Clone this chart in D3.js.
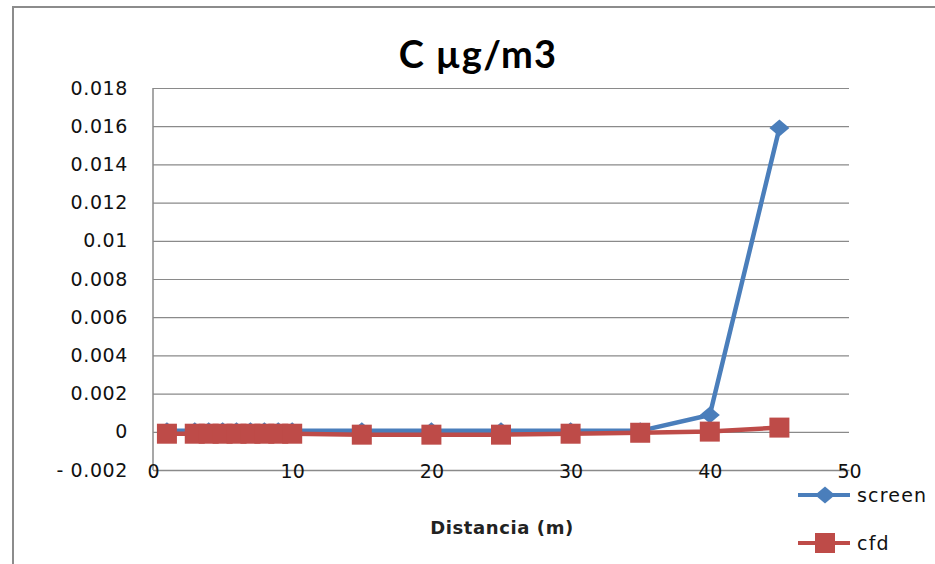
<!DOCTYPE html>
<html>
<head>
<meta charset="utf-8">
<script src="https://cdn.jsdelivr.net/npm/d3@7"></script>
<style>
  body { margin: 0; background: #fff; }
  svg { display: block; }
</style>
</head>
<body>
<svg id="chart" width="935" height="564"></svg>
<script>
// distances (m) and the two concentration series
const distancia = [1, 3, 4, 5, 6, 7, 8, 9, 10, 15, 20, 25, 30, 35, 40, 45];
const screen = [0.00005, 0.00005, 0.00005, 0.00005, 0.00005, 0.00005, 0.00005, 0.00005, 0.00005,
                0.00005, 0.00005, 0.00005, 0.00005, 0.00005, 0.00088, 0.0159];
const cfd = [-0.0001, -0.0001, -0.0001, -0.0001, -0.0001, -0.0001, -0.0001, -0.0001, -0.0001,
             -0.00015, -0.00015, -0.00015, -0.0001, -0.00005, 0.00001, 0.00022];
const yTicks = [-0.002, 0, 0.002, 0.004, 0.006, 0.008, 0.01, 0.012, 0.014, 0.016, 0.018];
const xTicks = [0, 10, 20, 30, 40, 50];
const seriesNames = ["screen", "cfd"];

const blue = "#4a7ebb", red = "#be4b48";
const labelFont = "DejaVu Sans";

var svg = d3.select("#chart");
var margin = {top: 88, right: 86, bottom: 94, left: 153},
    width = 935 - margin.left - margin.right,
    height = 564 - margin.top - margin.bottom;

// outer chart border (runs off the right and bottom of the picture)
svg.append("rect")
  .attr("x", 13).attr("y", 7)
  .attr("width", 960).attr("height", 600)
  .attr("fill", "none")
  .attr("stroke", "#8c8c8c")
  .attr("stroke-width", 2);

var x = d3.scaleLinear().domain([0, 50]).range([0, width]);
var y = d3.scaleLinear().domain([-0.002, 0.018]).range([height, 0]);

var g = svg.append("g")
  .attr("transform", "translate(" + margin.left + "," + margin.top + ")");

// horizontal gridlines + y labels
var yAxis = d3.axisLeft(y)
  .tickValues(yTicks)
  .tickSize(-width)
  .tickPadding(25)
  .tickFormat(d => d < 0 ? "- " + Math.abs(d) : String(+d.toFixed(3)));

var ya = g.append("g").call(yAxis);
ya.select(".domain").remove();
ya.selectAll(".tick line")
  .attr("stroke", "#8a8a8a")
  .attr("stroke-width", 1.2);
ya.selectAll(".tick text")
  .attr("font-family", labelFont)
  .attr("font-size", 19)
  .attr("letter-spacing", 0.6)
  .attr("fill", "#111");

// left axis line
g.append("line")
  .attr("x1", 0).attr("x2", 0)
  .attr("y1", 0).attr("y2", height)
  .attr("stroke", "#8a8a8a").attr("stroke-width", 1.5);

// bottom axis sits at -0.002, labels straddle the line
var xAxis = d3.axisBottom(x)
  .tickValues(xTicks)
  .tickSize(0)
  .tickPadding(-6);

var xa = g.append("g")
  .attr("transform", "translate(0," + height + ")")
  .call(xAxis);
xa.select(".domain")
  .attr("stroke", "#8a8a8a").attr("stroke-width", 1.5);
xa.selectAll(".tick text")
  .attr("font-family", labelFont)
  .attr("font-size", 19)
  .attr("fill", "#111");

// diamond marker, a bit wider than tall like the original
var diamond = "M0,-8.5L10,0L0,8.5L-10,0Z";

// lines
var pts = (vals) => distancia.map((d, i) => [d, vals[i]]);
var line = d3.line().x(d => x(d[0])).y(d => y(d[1]));

g.append("path")
  .datum(pts(screen))
  .attr("d", line)
  .attr("fill", "none")
  .attr("stroke", blue)
  .attr("stroke-width", 4.5)
  .attr("stroke-linejoin", "round");

g.selectAll(".dia")
  .data(pts(screen))
  .enter().append("path")
  .attr("class", "dia")
  .attr("d", diamond)
  .attr("transform", d => "translate(" + x(d[0]) + "," + y(d[1]) + ")")
  .attr("fill", blue);

g.append("path")
  .datum(pts(cfd))
  .attr("d", line)
  .attr("fill", "none")
  .attr("stroke", red)
  .attr("stroke-width", 4.5)
  .attr("stroke-linejoin", "round");

g.selectAll(".sq")
  .data(pts(cfd))
  .enter().append("rect")
  .attr("class", "sq")
  .attr("x", d => x(d[0]) - 10)
  .attr("y", d => y(d[1]) - 10)
  .attr("width", 20).attr("height", 20)
  .attr("fill", red);

// title
svg.append("text")
  .attr("x", 478).attr("y", 68)
  .attr("text-anchor", "middle")
  .attr("font-family", "Lato")
  .attr("font-weight", "bold")
  .attr("font-size", 38)
  .attr("letter-spacing", 1.2)
  .attr("fill", "#000")
  .text("C µg/m3");

// x axis title
svg.append("text")
  .attr("x", 502).attr("y", 534)
  .attr("text-anchor", "middle")
  .attr("font-family", labelFont)
  .attr("font-weight", "bold")
  .attr("font-size", 18)
  .attr("letter-spacing", 0.6)
  .attr("fill", "#222")
  .text("Distancia  (m)");

// legend
var legend = svg.append("g")
  .attr("transform", "translate(798,495)");

legend.selectAll("g").data(seriesNames)
  .enter()
  .append("g")
  .each(function(d, i) {
    var lg = d3.select(this).attr("transform", "translate(0," + (i * 48) + ")");
    var col = i == 0 ? blue : red;
    lg.append("line")
      .attr("x1", 0).attr("x2", 52)
      .attr("stroke", col).attr("stroke-width", 4);
    if (i == 0) {
      lg.append("path")
        .attr("d", diamond)
        .attr("transform", "translate(27,0)")
        .attr("fill", col);
    } else {
      lg.append("rect")
        .attr("x", 17).attr("y", -10)
        .attr("width", 20).attr("height", 20)
        .attr("fill", col);
    }
    lg.append("text")
      .attr("x", 59).attr("y", 7)
      .attr("font-family", labelFont)
      .attr("font-size", 19)
      .attr("letter-spacing", 1.2)
      .attr("fill", "#111")
      .text(d);
  });
</script>
</body>
</html>
